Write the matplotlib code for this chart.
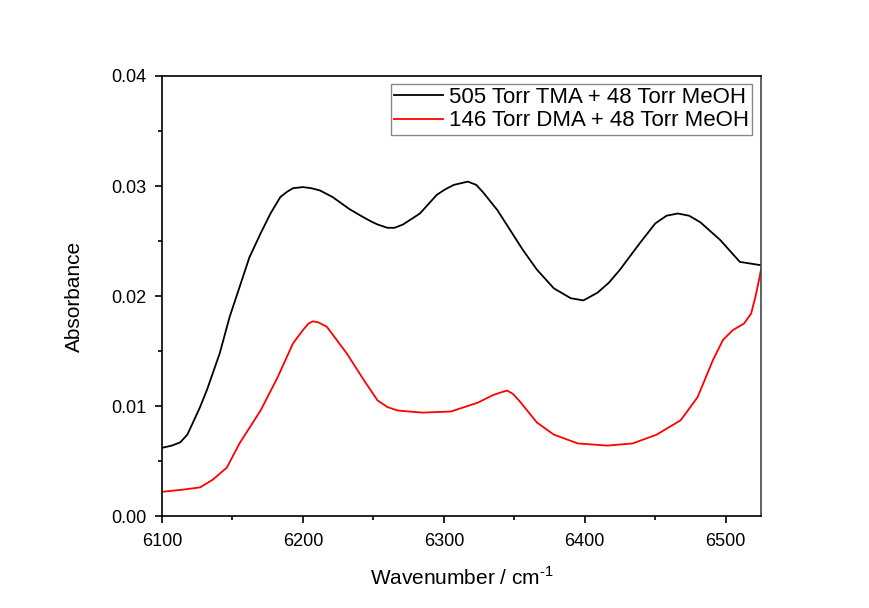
import matplotlib.pyplot as plt
from matplotlib.ticker import MultipleLocator

plt.rcParams['font.family'] = ['Liberation Sans', 'DejaVu Sans']
plt.rcParams['mathtext.fontset'] = 'custom'
plt.rcParams['mathtext.rm'] = 'Liberation Sans'

# 505 Torr TMA + 48 Torr MeOH
tma_wn = [6100, 6107, 6113, 6118, 6122, 6127, 6132, 6141, 6148, 6155, 6162,
          6170, 6177, 6184, 6189, 6193, 6200, 6206, 6212, 6221, 6233, 6241,
          6248, 6253, 6260, 6265, 6271, 6283, 6295, 6301, 6307, 6317, 6323,
          6328, 6338, 6347, 6356, 6366, 6378, 6390, 6399, 6409, 6417, 6425,
          6439, 6450, 6458, 6466, 6474, 6482, 6496, 6510, 6525]
tma_abs = [0.0062, 0.0064, 0.0067, 0.0074, 0.0085, 0.0099, 0.0115, 0.0148,
           0.0181, 0.0208, 0.0235, 0.0257, 0.0275, 0.0290, 0.0295, 0.0298,
           0.0299, 0.0298, 0.0296, 0.0290, 0.0279, 0.0273, 0.0268, 0.0265,
           0.0262, 0.0262, 0.0265, 0.0275, 0.0292, 0.0297, 0.0301, 0.0304,
           0.0301, 0.0294, 0.0278, 0.0260, 0.0242, 0.0224, 0.0207, 0.0198,
           0.0196, 0.0203, 0.0212, 0.0224, 0.0248, 0.0266, 0.0273, 0.0275,
           0.0273, 0.0267, 0.0251, 0.0231, 0.0228]

# 146 Torr DMA + 48 Torr MeOH
dma_wn = [6100, 6115, 6127, 6136, 6146, 6155, 6170, 6182, 6193, 6200, 6204,
          6207, 6211, 6217, 6231, 6243, 6253, 6260, 6267, 6275, 6285, 6305,
          6324, 6335, 6342, 6345, 6349, 6354, 6366, 6378, 6395, 6416, 6434,
          6451, 6468, 6480, 6491, 6498, 6505, 6513, 6518, 6521, 6524, 6525]
dma_abs = [0.0022, 0.0024, 0.0026, 0.0033, 0.0044, 0.0066, 0.0096, 0.0126,
           0.0157, 0.0169, 0.0175, 0.0177, 0.0176, 0.0172, 0.0148, 0.0124,
           0.0105, 0.0099, 0.0096, 0.0095, 0.0094, 0.0095, 0.0103, 0.0110,
           0.0113, 0.0114, 0.0111, 0.0104, 0.0085, 0.0074, 0.0066, 0.0064,
           0.0066, 0.0074, 0.0087, 0.0108, 0.0142, 0.0160, 0.0169, 0.0175,
           0.0184, 0.0199, 0.0217, 0.0224]

fig = plt.figure(figsize=(8.69, 6.08), dpi=100)
ax = fig.add_axes([0.1864, 0.1513, 0.6893, 0.7237])

ax.plot(tma_wn, tma_abs, color='black', lw=1.3, label='505 Torr TMA + 48 Torr MeOH')
ax.plot(dma_wn, dma_abs, color='red', lw=1.3, label='146 Torr DMA + 48 Torr MeOH')

ax.set_xlim(6100, 6525)
ax.set_ylim(0, 0.04)
ax.xaxis.set_major_locator(MultipleLocator(100))
ax.xaxis.set_minor_locator(MultipleLocator(50))
ax.yaxis.set_major_locator(MultipleLocator(0.01))
ax.yaxis.set_minor_locator(MultipleLocator(0.005))
ax.yaxis.set_major_formatter(lambda v, p: f'{v:.2f}')
ax.tick_params(which='major', direction='out', length=5, width=1.2, labelsize=13)
ax.tick_params(axis='x', which='major', pad=7)
ax.tick_params(axis='y', which='major', pad=6)
ax.tick_params(which='minor', direction='out', length=3, width=1.2)
ax.tick_params(top=False, right=False, which='both')
for s in ax.spines.values():
    s.set_linewidth(1.2)
ax.spines['right'].set_color('#444444')

ax.set_xlabel(r'Wavenumber / cm$^{\text{-1}}$', fontsize=15, labelpad=12)
ax.set_ylabel('Absorbance', fontsize=15, labelpad=20)

leg = ax.legend(loc='upper right', fontsize=16, frameon=True, fancybox=False,
                handlelength=2.2, handletextpad=0.25, borderpad=0.15,
                labelspacing=0.1, borderaxespad=0, bbox_to_anchor=(0.985, 0.982))
leg.get_frame().set_edgecolor('#888888')
leg.get_frame().set_linewidth(1.0)
leg.get_frame().set_alpha(1)

fig.savefig('out.png', dpi=100)
